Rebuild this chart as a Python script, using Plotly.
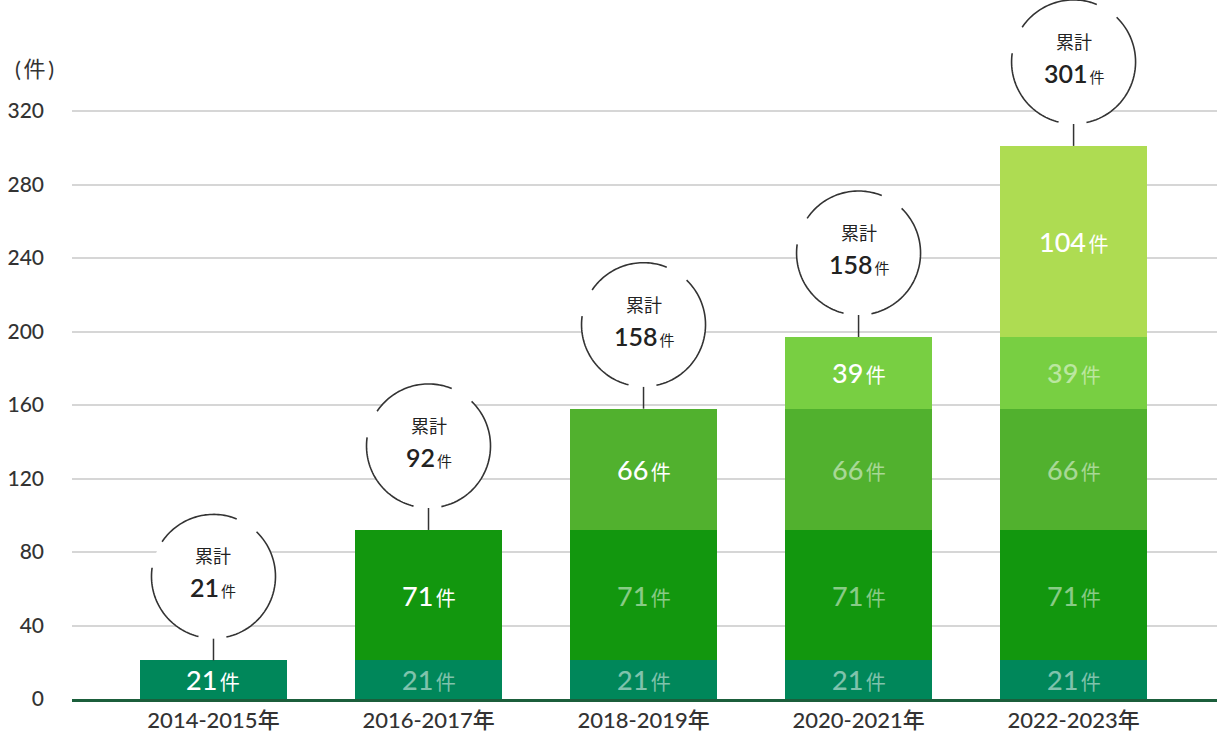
import math

import plotly.graph_objects as go

# Periods on the x axis and the cases added in each period (stacked cohorts)
periods = ['2014-2015年', '2016-2017年', '2018-2019年', '2020-2021年', '2022-2023年']
cohort_2014 = [21, 21, 21, 21, 21]
cohort_2016 = [None, 71, 71, 71, 71]
cohort_2018 = [None, None, 66, 66, 66]
cohort_2020 = [None, None, None, 39, 39]
cohort_2022 = [None, None, None, None, 104]
# Cumulative labels exactly as printed in the bubbles
cumulative_labels = [21, 92, 158, 158, 301]
y_ticks = [0, 40, 80, 120, 160, 200, 240, 280, 320]

cohorts = [cohort_2014, cohort_2016, cohort_2018, cohort_2020, cohort_2022]
colors = ['#00875A', '#12970E', '#51B12E', '#78CF42', '#AEDC52']

FONT = 'Lato, "Noto Sans CJK JP", sans-serif'
PX_PER_UNIT = 588 / 320
PLOT_H = 699
R = 62          # bubble radius, px
LIFT = 84       # bubble centre above bar top, px

x_pos = list(range(len(periods)))
fig = go.Figure()

for series, color in zip(cohorts, colors):
    fig.add_trace(go.Bar(
        x=x_pos, y=series, marker={'color': color, 'line': {'width': 0}},
        width=0.684, hoverinfo='skip', showlegend=False))

annotations = []
shapes = []

# Segment labels: newest segment in white, older ones faded
for i in x_pos:
    base = 0
    newest = max(k for k, s in enumerate(cohorts) if s[i] is not None)
    for k, series in enumerate(cohorts):
        v = series[i]
        if v is None:
            continue
        color = 'white' if k == newest else 'rgba(255,255,255,0.5)'
        annotations.append(dict(
            x=i, y=base + v / 2, xref='x', yref='y', showarrow=False,
            text=f"<span style='font-size:27px;font-weight:500'>{v}</span>"
                 f"<span style='font-size:20px;font-weight:400'>&#8201;件</span>",
            font={'family': FONT, 'color': color}))
        base += v

totals = [sum(s[i] for s in cohorts if s[i] is not None) for i in x_pos]


def arc_path(a0, a1, steps=40):
    pts = []
    for j in range(steps + 1):
        a = math.radians(a0 + (a1 - a0) * j / steps)
        pts.append(f"{R * math.cos(a):.2f},{LIFT + R * math.sin(a):.2f}")
    return 'M' + ' L'.join(pts)


arcs = [(-78, 46), (68, 146), (172, 256)]

for i, total in enumerate(totals):
    anchor = {'xref': 'x', 'yref': 'y', 'xanchor': i, 'yanchor': total,
              'xsizemode': 'pixel', 'ysizemode': 'pixel'}
    # connector
    shapes.append(dict(type='line', x0=0, x1=0, y0=0, y1=LIFT - R,
                       line={'color': '#333333', 'width': 1.5}, **anchor))
    # white disc hides gridlines
    shapes.append(dict(type='circle', x0=-R, x1=R, y0=LIFT - R, y1=LIFT + R,
                       fillcolor='white', line={'width': 0}, **anchor))
    for a0, a1 in arcs:
        shapes.append(dict(type='path', path=arc_path(a0, a1),
                           line={'color': '#333333', 'width': 1.6}, **anchor))
    annotations.append(dict(
        x=i, y=total, xref='x', yref='y', showarrow=False, yshift=LIFT + 20,
        text='累計', font={'family': FONT, 'size': 18, 'color': '#222222'}))
    annotations.append(dict(
        x=i, y=total, xref='x', yref='y', showarrow=False, yshift=LIFT - 11,
        text=f"<span style='font-size:25px;font-weight:600'>{cumulative_labels[i]}</span>"
             f"<span style='font-size:15px;font-weight:400'>&#8201;件</span>",
        font={'family': FONT, 'color': '#222222'}))

annotations.append(dict(
    x=0, y=1 - 68 / PLOT_H, xref='paper', yref='paper', xanchor='right',
    yanchor='middle', xshift=-16, showarrow=False, text='(&#8201;件&#8201;)',
    font={'family': FONT, 'size': 22, 'color': '#333333'}))

fig.update_layout(
    width=1217, height=740, barmode='stack', bargap=0,
    margin={'l': 72, 'r': 0, 't': 0, 'b': 41},
    plot_bgcolor='white', paper_bgcolor='white',
    font={'family': FONT, 'color': '#333333'},
    annotations=annotations, shapes=shapes)

fig.update_xaxes(
    range=[-0.658, 4.667], tickvals=x_pos, ticktext=periods,
    tickfont={'size': 22, 'color': '#333333', 'weight': 500}, showgrid=False,
    showline=True, linecolor='#1B5E3B', linewidth=3, ticks='', fixedrange=True)

fig.update_yaxes(
    range=[0, PLOT_H / PX_PER_UNIT], tickvals=y_ticks,
    tickfont={'size': 21, 'color': '#333333', 'weight': 500}, showgrid=True,
    gridcolor='#D6D6D6', gridwidth=2, zeroline=False, ticks='',
    ticklabelstandoff=27, fixedrange=True)

# the page body has a default 8px margin; drop it so the chart sits at 0,0
fig.write_html("out.html", config={'displayModeBar': False},
               post_script="document.body.style.margin='0';")
